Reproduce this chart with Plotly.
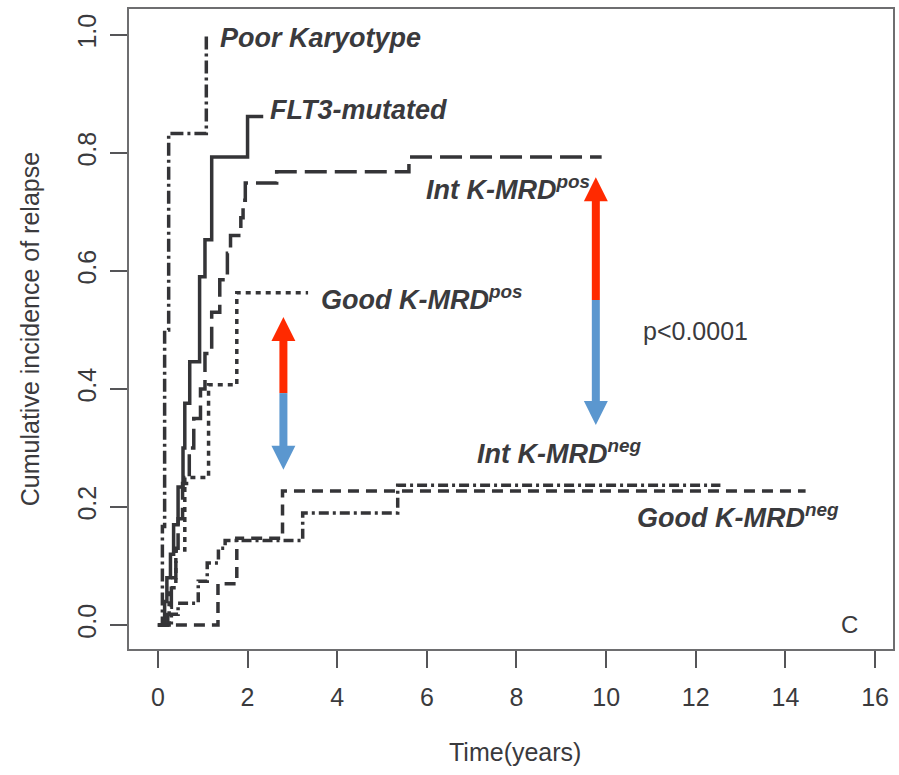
import plotly.graph_objects as go

# ---------------- data ----------------
poor_t = [0.0, 0.10, 0.15, 0.24, 1.08]
poor_y = [0.0, 0.167, 0.50, 0.833, 1.0]

flt3_t = [0.0, 0.15, 0.20, 0.28, 0.35, 0.45, 0.56, 0.60, 0.71, 0.93, 1.05, 1.20, 2.00, 2.35]
flt3_y = [0.0, 0.04, 0.08, 0.12, 0.17, 0.234, 0.30, 0.376, 0.446, 0.59, 0.653, 0.793, 0.862, 0.862]

intpos_t = [0.0, 0.22, 0.30, 0.40, 0.45, 0.55, 0.70, 0.80, 0.95, 1.05, 1.20, 1.38, 1.55, 1.62,
            1.85, 1.90, 1.95, 2.65, 5.60, 9.90]
intpos_y = [0.0, 0.03, 0.08, 0.13, 0.18, 0.24, 0.30, 0.35, 0.40, 0.46, 0.53, 0.585, 0.63, 0.66,
            0.69, 0.72, 0.749, 0.768, 0.793, 0.793]

goodpos_t = [0.0, 0.25, 0.40, 0.60, 1.13, 1.76, 3.35]
goodpos_y = [0.0, 0.063, 0.127, 0.25, 0.407, 0.563, 0.563]

goodneg_t = [0.0, 1.34, 1.76, 2.78, 14.45]
goodneg_y = [0.0, 0.07, 0.147, 0.227, 0.227]

intneg_t = [0.0, 0.30, 0.45, 0.90, 1.10, 1.35, 1.50, 3.23, 5.35, 12.55]
intneg_y = [0.0, 0.018, 0.037, 0.074, 0.105, 0.13, 0.143, 0.19, 0.237, 0.237]

x_ticks = [0, 2, 4, 6, 8, 10, 12, 14, 16]
y_ticks = [0.0, 0.2, 0.4, 0.6, 0.8, 1.0]
y_tick_text = ["0.0", "0.2", "0.4", "0.6", "0.8", "1.0"]

# group labels: (text, x, y)
labels = [
    ("Poor Karyotype", 1.33, 0.995),
    ("FLT3-mutated", 2.45, 0.873),
    ("Int K-MRD<sup>pos</sup>", 5.94, 0.741),
    ("Good K-MRD<sup>pos</sup>", 3.60, 0.554),
    ("Int K-MRD<sup>neg</sup>", 7.08, 0.293),
    ("Good K-MRD<sup>neg</sup>", 10.64, 0.185),
]
pvalue_text = "p<0.0001"
pvalue_pos = (10.77, 0.498)
panel_text = "C"
panel_pos = (15.44, 0.0)

# double arrows: x, top tip, colour boundary, bottom tip
arrows = [
    (2.80, 0.522, 0.393, 0.263),
    (9.77, 0.759, 0.551, 0.339),
]

# ---------------- figure ----------------
W, H = 899, 775
ML, MR, MT, MB = 129, 4, 9, 126
XR = [-0.645, 16.40]
YR = [-0.0407, 1.044]

line_col = "#343437"
series = [
    (poor_t, poor_y, "13px,4px,3px,4px"),
    (flt3_t, flt3_y, "solid"),
    (intpos_t, intpos_y, "22px,8px"),
    (goodpos_t, goodpos_y, "5px,5px"),
    (goodneg_t, goodneg_y, "11px,7px"),
    (intneg_t, intneg_y, "10px,4px,3px,4px"),
]

fig = go.Figure()
for t, y, dash in series:
    fig.add_trace(go.Scatter(x=t, y=y, mode="lines", line_shape="hv",
                             line=dict(color=line_col, width=3.5, dash=dash),
                             showlegend=False, hoverinfo="skip"))

# arrows
plot_w = W - ML - MR
plot_h = H - MT - MB
ppx = plot_w / (XR[1] - XR[0])
ppy = plot_h / (YR[1] - YR[0])
head_len = 24 / ppy
head_half = 12 / ppx
red = "#ff2a00"
blue = "#5b97cf"
shapes = []
for x, ytop, ymid, ybot in arrows:
    shapes.append(dict(type="line", xref="x", yref="y", x0=x, x1=x, y0=ymid, y1=ytop - head_len + 0.002,
                       line=dict(color=red, width=8), layer="above"))
    shapes.append(dict(type="line", xref="x", yref="y", x0=x, x1=x, y0=ymid, y1=ybot + head_len - 0.002,
                       line=dict(color=blue, width=8), layer="above"))
    shapes.append(dict(type="path", xref="x", yref="y",
                       path=f"M {x} {ytop} L {x - head_half} {ytop - head_len} L {x + head_half} {ytop - head_len} Z",
                       fillcolor=red, line=dict(width=0), layer="above"))
    shapes.append(dict(type="path", xref="x", yref="y",
                       path=f"M {x} {ybot} L {x - head_half} {ybot + head_len} L {x + head_half} {ybot + head_len} Z",
                       fillcolor=blue, line=dict(width=0), layer="above"))

txt_col = "#3a3a3d"
lab_font = dict(family="Liberation Sans, Arial, sans-serif", size=27, color=txt_col)
annotations = []
for txt, x, y in labels:
    annotations.append(dict(text=f"<b><i>{txt}</i></b>", x=x, y=y, xref="x", yref="y",
                            xanchor="left", yanchor="middle", showarrow=False, font=lab_font))
annotations.append(dict(text=pvalue_text, x=pvalue_pos[0], y=pvalue_pos[1], xref="x", yref="y",
                        xanchor="left", yanchor="middle", showarrow=False,
                        font=dict(family="Liberation Sans, Arial, sans-serif", size=25, color=txt_col)))
annotations.append(dict(text=panel_text, x=panel_pos[0], y=panel_pos[1], xref="x", yref="y",
                        xanchor="center", yanchor="middle", showarrow=False,
                        font=dict(family="Liberation Sans, Arial, sans-serif", size=24, color=txt_col)))

tick_font = dict(family="Liberation Sans Narrow, Liberation Sans, Arial, sans-serif", size=25, color=txt_col)
title_font = dict(family="Liberation Sans Narrow, Liberation Sans, Arial, sans-serif", size=25, color=txt_col)
annotations.append(dict(text="Cumulative incidence of relapse", textangle=-90,
                        x=-(ML - 30) / plot_w, y=0.5, xref="paper", yref="paper",
                        xanchor="center", yanchor="middle", showarrow=False, font=title_font))
annotations.append(dict(text="Time(years)", x=(516 - ML) / plot_w, y=-(752 - MT - plot_h) / plot_h,
                        xref="paper", yref="paper", xanchor="center", yanchor="middle",
                        showarrow=False, font=title_font))

fig.update_layout(
    width=W, height=H,
    margin=dict(l=ML, r=MR, t=MT, b=MB),
    paper_bgcolor="white", plot_bgcolor="white",
    shapes=shapes, annotations=annotations,
    xaxis=dict(range=XR, tickmode="array", tickvals=x_ticks, ticktext=[str(v) for v in x_ticks],
               showgrid=False, zeroline=False, showline=True, mirror=True,
               linecolor="#6e6e70", linewidth=1.5, ticks="outside", ticklen=17,
               tickcolor="#555558", tickwidth=1.5, tickfont=tick_font, ticklabelstandoff=8),
    yaxis=dict(range=YR, tickmode="array", tickvals=y_ticks, ticktext=y_tick_text,
               showgrid=False, zeroline=False, showline=True, mirror=True,
               linecolor="#6e6e70", linewidth=1.5, ticks="outside", ticklen=17,
               tickcolor="#555558", tickwidth=1.5, tickfont=tick_font, tickangle=-90,
               ticklabelstandoff=4),
)

fig.write_html("out.html")
